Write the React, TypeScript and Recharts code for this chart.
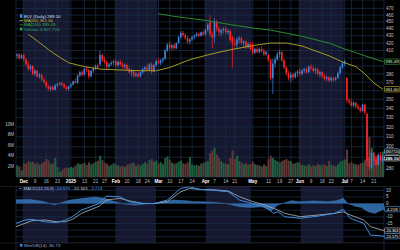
import {
  ComposedChart,
  Bar,
  Line,
  Area,
  Cell,
  XAxis,
  YAxis,
  CartesianGrid,
  ReferenceArea,
  ReferenceLine,
} from "recharts";

const FONT = '"Liberation Sans", Arial, sans-serif';

// daily candles: [open, high, low, close, volume in millions]
const nov = [
  [403, 406, 399, 405, 2.2], [405, 407, 398, 400, 2.0], [400, 406, 399, 404, 1.3],
];
const dec = [
  [404, 406, 396, 398, 2.6], [398, 400, 390, 392, 2.5], [392, 396, 384, 386, 3.0],
  [386, 392, 383, 390, 2.8], [390, 391, 378, 380, 2.9], [380, 386, 377, 384, 2.4],
  [384, 385, 375, 377, 2.7], [377, 381, 374, 379, 2.3], [379, 380, 371, 373, 2.6],
  [373, 376, 368, 370, 2.9], [370, 372, 363, 365, 3.4], [365, 367, 360, 362, 3.1],
  [362, 366, 359, 364, 2.5], [364, 366, 360, 361, 2.6], [361, 368, 360, 366, 3.6],
  [366, 369, 364, 368, 1.9], [368, 370, 366, 369, 1.0], [369, 371, 365, 367, 1.3],
  [367, 369, 362, 364, 1.6], [364, 366, 360, 362, 1.8], [362, 366, 360, 365, 1.7],
];
const jan = [
  [365, 369, 363, 367, 1.9], [367, 372, 366, 371, 1.8], [371, 375, 368, 369, 2.2],
  [369, 380, 368, 378, 2.6], [378, 384, 376, 382, 2.4], [382, 385, 377, 379, 2.5],
  [379, 388, 378, 386, 2.7], [386, 390, 382, 385, 2.3], [385, 386, 374, 377, 2.8],
  [377, 385, 376, 384, 2.4], [384, 389, 381, 387, 2.6], [387, 392, 385, 390, 2.9],
  [390, 393, 386, 388, 3.1], [392, 410, 390, 404, 4.0], [404, 406, 395, 397, 3.2],
  [397, 402, 392, 395, 2.7], [395, 397, 386, 389, 2.5], [389, 394, 387, 392, 2.1],
  [392, 397, 390, 394, 2.3], [394, 398, 391, 396, 2.6],
];
const feb = [
  [396, 399, 388, 391, 2.4], [391, 397, 389, 395, 2.2], [395, 398, 390, 392, 2.0],
  [392, 395, 387, 389, 2.1], [389, 393, 386, 391, 1.9], [391, 393, 384, 386, 2.3],
  [386, 389, 380, 382, 2.4], [382, 386, 377, 384, 2.6], [384, 385, 375, 378, 2.7],
  [378, 382, 376, 380, 2.1], [380, 383, 375, 377, 2.4], [377, 383, 376, 382, 2.2],
  [382, 388, 380, 386, 2.5], [386, 390, 383, 388, 2.8], [388, 392, 384, 385, 2.6],
  [385, 394, 384, 392, 3.2], [392, 395, 380, 383, 3.4], [383, 393, 382, 391, 2.9],
  [391, 398, 389, 396, 3.1],
];
const mar = [
  [396, 400, 392, 394, 2.5], [394, 399, 391, 397, 2.8], [397, 401, 393, 399, 2.4],
  [399, 412, 398, 410, 3.6], [410, 420, 408, 418, 3.9], [418, 423, 411, 414, 3.3],
  [414, 419, 410, 417, 2.7], [417, 419, 411, 413, 2.5], [413, 421, 412, 420, 2.6],
  [420, 430, 419, 428, 2.9], [428, 437, 426, 434, 3.1], [434, 437, 429, 431, 2.6],
  [431, 434, 425, 427, 2.5], [427, 430, 419, 422, 2.8], [422, 427, 418, 425, 3.8],
  [425, 430, 423, 428, 2.4], [428, 432, 425, 430, 2.2], [430, 435, 428, 433, 2.3],
  [433, 436, 428, 430, 2.1], [430, 436, 429, 435, 2.5], [435, 438, 430, 432, 2.7],
];
const apr = [
  [432, 440, 430, 438, 2.8], [438, 448, 436, 446, 3.0], [450, 460, 428, 432, 4.5],
  [432, 436, 413, 428, 5.0], [428, 455, 420, 450, 5.5], [450, 453, 436, 440, 4.2],
  [440, 444, 430, 436, 3.6], [434, 440, 430, 438, 3.0], [438, 442, 433, 440, 2.6],
  [440, 443, 432, 435, 2.5], [435, 440, 432, 437, 2.4], [437, 439, 422, 424, 3.6],
  [428, 430, 388, 420, 5.0], [420, 426, 415, 418, 3.4], [418, 428, 412, 425, 4.0],
  [425, 430, 420, 427, 3.0], [427, 429, 418, 420, 2.7], [420, 424, 414, 422, 2.4],
  [422, 424, 412, 415, 2.6], [415, 421, 413, 419, 2.3], [419, 422, 410, 412, 2.5],
];
const may = [
  [418, 421, 404, 407, 2.9], [407, 414, 405, 412, 2.4], [412, 415, 406, 408, 2.3],
  [408, 414, 406, 412, 2.2], [412, 416, 407, 409, 2.0], [409, 413, 403, 405, 2.4],
  [405, 410, 403, 408, 2.1], [404, 406, 395, 398, 3.4], [398, 399, 372, 375, 4.0],
  [375, 399, 356, 393, 3.6], [393, 402, 388, 398, 3.2], [398, 408, 396, 405, 3.0],
  [405, 411, 401, 408, 2.7], [408, 409, 395, 397, 3.0], [397, 399, 386, 388, 3.2],
  [388, 390, 378, 381, 3.4], [381, 384, 372, 375, 3.1], [375, 382, 370, 379, 3.0],
  [379, 382, 372, 376, 2.5], [376, 383, 374, 381, 2.6], [381, 385, 376, 383, 2.8],
];
const jun = [
  [383, 386, 377, 380, 2.6], [380, 386, 378, 384, 2.3], [384, 388, 381, 386, 2.2],
  [386, 388, 380, 382, 2.1], [382, 391, 381, 389, 2.4], [389, 392, 385, 387, 2.0],
  [387, 390, 382, 384, 2.2], [384, 388, 380, 386, 2.1], [386, 387, 378, 380, 2.5],
  [380, 384, 376, 382, 2.3], [382, 383, 375, 377, 2.2], [377, 380, 372, 374, 2.4],
  [374, 378, 371, 376, 2.1], [376, 377, 370, 372, 3.0], [372, 377, 370, 375, 2.3],
  [375, 376, 370, 373, 2.2], [373, 377, 371, 375, 2.0], [375, 383, 374, 381, 2.4],
  [381, 390, 379, 388, 2.9], [388, 396, 386, 393, 3.1],
];
const jul = [
  [393, 398, 390, 396, 3.3], [375, 376, 346, 349, 5.2], [349, 352, 344, 347, 2.6],
  [347, 350, 341, 343, 2.8], [343, 348, 341, 346, 2.5], [346, 347, 340, 342, 2.4],
  [342, 345, 338, 340, 2.3], [340, 341, 335, 337, 2.6], [337, 345, 336, 344, 2.7],
  [344, 345, 333, 335, 3.3], [334, 335, 282, 287, 9.0], [290, 298, 277, 281, 7.5],
  [280, 296, 278, 294, 5.5], [294, 295, 283, 286, 4.2], [288, 292, 281, 283, 3.8],
  [283, 294, 282, 292, 4.1], [292, 295, 286, 287, 3.9], [287, 292, 285, 289.1, 4.81],
];

// moving averages and MACD: [day index, value]
const ma50Pts = [
  [5, 432], [9, 423], [14, 411], [19, 401], [23, 394], [30, 389], [37, 386], [45, 385],
  [55, 384], [62, 384], [68, 388], [77, 398], [86, 405], [95, 411], [106, 417], [113, 420],
  [120, 420], [127, 416], [139, 403], [145, 395], [151, 389], [155, 380], [159, 369], [163, 361.6],
];
const ma200Pts = [
  [63, 462], [70, 458], [84, 452], [95, 446], [105, 441], [113, 438], [126, 430],
  [139, 420], [146, 412], [155, 403], [163, 395.49],
];
const macdPts = [
  [0, -14.9], [4, -12.4], [7, -11.9], [13, -13.7], [18, -14.4], [22, -12.4], [25, -9.9],
  [29, -4.9], [37, 0.1], [40, 5.6], [46, 5.1], [50, 1.4], [56, 0.1], [61, 0], [67, 2.6],
  [73, 11.4], [77, 12.6], [82, 10.5], [87, 10], [94, 8.9], [99, 2.6], [105, 0], [111, -3.0],
  [114, -7.4], [116, -6.2], [119, -9.9], [126, -11.1], [134, -9.4], [141, -7.4], [145, -4.4],
  [148, -11.1], [154, -14.9], [157, -23.7], [163, -24.575],
];
const signalPts = [
  [0, -17.4], [4, -14.9], [7, -12.9], [13, -12.4], [18, -13.7], [22, -13.7], [25, -11.9],
  [29, -7.4], [37, -1.9], [40, 2.6], [46, 3.9], [50, 2.1], [56, 0.1], [61, 0], [67, 1.4],
  [73, 8.9], [77, 11.4], [82, 10.5], [87, 10.5], [94, 9.4], [99, 5.1], [105, 1.4], [111, -1.5],
  [114, -3.6], [116, -4.9], [119, -7.4], [126, -9.9], [134, -8.6], [141, -7.4], [145, -6.2],
  [148, -8.6], [154, -12.4], [157, -17.4], [163, -20.363],
];
const histPts = [
  [0, 2.8], [6, 3.0], [12, 1.5], [15, 0], [17, -1.0], [20, 0.5], [24, 2.6], [30, 3.9],
  [35, 5.0], [39, 3.9], [44, 1.4], [48, -0.4], [53, -1.1], [57, -0.4], [61, 0], [66, 1.4],
  [70, 2.6], [75, 2.1], [79, 1.4], [82, 1.4], [87, 0.9], [93, 0], [96, -1.1], [99, -2.4],
  [104, -2.9], [109, -2.4], [113, -5.5], [116, -1.1], [118, 0], [122, 2.1], [126, 1.4],
  [132, 1.9], [138, 1.4], [142, 2.1], [145, 3.9], [147, 0], [150, -1.9], [153, -2.9],
  [156, -6.1], [159, -7.4], [162, -4.9], [163, -4.218],
];

const tickIdx = [3, 8, 13, 18, 24, 30, 35, 39, 44, 49, 54, 58, 63, 68, 73, 78, 84, 88, 93, 97, 105, 112, 117, 122, 126, 131, 136, 140, 146, 149, 154, 159];
const tickLabels = ["Dec", "9", "16", "23", "2025", "13", "21", "27", "Feb", "10", "18", "24", "Mar", "10", "17", "24", "Apr", "7", "14", "21", "May", "12", "19", "27", "Jun", "9", "16", "23", "Jul", "7", "14", "21"];
const priceTicks = [280, 290, 300, 310, 320, 330, 340, 350, 360, 370, 380, 390, 400, 410, 420, 430, 440, 450, 460, 470];
const volTicks = [2, 4, 6, 8, 10];
const macdTicks = [10, 5, 0, -5, -10, -15, -20, -25];
// tick labels sitting under a value tag
const hiddenLabels = [290, 360, 390, 400, -5, -20, -25];
// shaded months (first and last day index)
const bands = [[3, 23], [44, 62], [84, 104], [126, 145]];

const rows: any[] = [...nov, ...dec, ...jan, ...feb, ...mar, ...apr, ...may, ...jun, ...jul].map(
  ([o, h, l, c, v], i) => ({ i, o, h, l, c, v })
);
const put = (pts: number[][], key: string) => pts.forEach(([i, val]) => { rows[i][key] = val; });
put(ma50Pts, "ma50");
put(ma200Pts, "ma200");
put(macdPts, "macd");
put(signalPts, "signal");
put(histPts, "hist");

const PRICE_DOMAIN = [272, 483];
const BAND = "#15182f";
const GRID = "#1c2f4e";

const Candle = (props: any) => {
  const { x, y, width, height, payload } = props;
  if (!payload) return null;
  const top = Math.min(y, y + height);
  const bot = Math.max(y, y + height);
  const lh = Math.log(payload.h);
  const span = lh - Math.log(payload.l) || 1;
  const py = (p: number) => top + ((lh - Math.log(p)) / span) * (bot - top);
  const up = payload.c >= payload.o;
  const col = up ? "#3f84dc" : "#ff2323";
  const cx = x + width / 2;
  const bw = Math.max(1.2, width * 0.8);
  const y1 = py(Math.max(payload.o, payload.c));
  const y2 = py(Math.min(payload.o, payload.c));
  return (
    <g>
      <line x1={cx} x2={cx} y1={top} y2={bot} stroke={col} strokeWidth={0.7} />
      <rect x={cx - bw / 2} y={y1} width={bw} height={Math.max(0.7, y2 - y1)} fill={col} />
    </g>
  );
};

const DateTick = ({ x, y, payload }: any) => {
  const lab = tickLabels[tickIdx.indexOf(payload.value)];
  const major = isNaN(Number(lab)) || lab === "2025";
  return (
    <text x={x} y={y + 5.6} textAnchor="middle" fontSize={4.6} fontWeight={major ? 700 : 400}
      fill={major ? "#ffffff" : "#bcbcbc"} fontFamily={FONT}>
      {lab}
    </text>
  );
};

const RightTick = ({ x, y, payload }: any) =>
  hiddenLabels.includes(payload.value) ? <g /> : (
    <text x={x + 2} y={y + 1.6} fontSize={4.5} fill="#c4c4c4" fontFamily={FONT}>{payload.value}</text>
  );

const VolTick = ({ x, y, payload }: any) => (
  <text x={x - 2} y={y + 1.6} textAnchor="end" fontSize={4.5} fill="#c4c4c4" fontFamily={FONT}>
    {payload.value}M
  </text>
);

const Tag = ({ viewBox, text, stroke, color, bold, size = 4.4 }: any) => {
  if (!viewBox) return null;
  const x = viewBox.x + viewBox.width + 0.5;
  const y = viewBox.y;
  return (
    <g>
      <rect x={x} y={y - 2.7} width={15.3} height={5.4} rx={1} fill="#060606" stroke={stroke} strokeWidth={0.6} />
      <text x={x + 0.7} y={y + 1.5} fontSize={size} fontWeight={bold ? 700 : 400} fill={color} fontFamily={FONT}>
        {text}
      </text>
    </g>
  );
};

const Bands = (yAxisId: string) =>
  bands.map(([a, b]) => (
    <ReferenceArea key={a} xAxisId="x" yAxisId={yAxisId} x1={a} x2={b} fill={BAND} fillOpacity={1} stroke="none" zIndex={-200} />
  ));

export default function App() {
  return (
    <div style={{ position: "fixed", left: 0, top: 0, width: 400, height: 250, background: "#000", overflow: "hidden" }}>
      {/* price panel background: bands, grid, volume, axes */}
      <div style={{ position: "absolute", left: 0, top: 0 }}>
        <ComposedChart width={400} height={186} data={rows} barCategoryGap="8%" margin={{ top: 0, right: 0, bottom: 0, left: 0 }}>
          <XAxis xAxisId="x" dataKey="i" ticks={tickIdx} interval={0} tick={<DateTick />} tickLine={false}
            axisLine={false} tickSize={0} tickMargin={0} height={9} />
          <YAxis yAxisId="p" orientation="right" type="number" scale="log" domain={PRICE_DOMAIN} allowDataOverflow
            ticks={priceTicks} interval={0} width={16} tick={<RightTick />} tickLine={false} axisLine={false}
            tickSize={0} tickMargin={0} />
          <YAxis yAxisId="vol" orientation="left" type="number" domain={[0, 33.4]} allowDataOverflow
            ticks={volTicks} interval={0} width={16} tick={<VolTick />} tickLine={false} axisLine={false}
            tickSize={0} tickMargin={0} />
          {Bands("p")}
          <CartesianGrid xAxisId="x" yAxisId="p" stroke={GRID} strokeWidth={0.7} />
          <Bar xAxisId="x" yAxisId="vol" dataKey="v" isAnimationActive={false}>
            {rows.map((r) => (
              <Cell key={r.i} fill={r.c >= r.o ? "#1f6040" : "#613737"} />
            ))}
          </Bar>
          <ReferenceLine xAxisId="x" yAxisId="vol" y={4.81} stroke="none"
            label={<Tag text="4807720" stroke="#8ab8e8" color="#e8f0ff" size={3.6} />} />
        </ComposedChart>
      </div>

      {/* price panel foreground: candles, moving averages */}
      <div style={{ position: "absolute", left: 0, top: 0 }}>
        <ComposedChart width={400} height={186} data={rows} barCategoryGap={0} margin={{ top: 0, right: 16, bottom: 9, left: 16 }}>
          <XAxis xAxisId="x" dataKey="i" hide />
          <YAxis yAxisId="p" type="number" scale="log" domain={PRICE_DOMAIN} allowDataOverflow hide />
          <Bar xAxisId="x" yAxisId="p" dataKey={(d: any) => [d.l, d.h]} shape={<Candle />} isAnimationActive={false} />
          <Line xAxisId="x" yAxisId="p" dataKey="ma200" stroke="#2a8a2a" strokeWidth={1} dot={false} connectNulls isAnimationActive={false} />
          <Line xAxisId="x" yAxisId="p" dataKey="ma50" stroke="#a69b22" strokeWidth={1} dot={false} connectNulls isAnimationActive={false} />
          <ReferenceLine xAxisId="x" yAxisId="p" y={395.49} stroke="none"
            label={<Tag text="395.49" stroke="#3aa03a" color="#c8f0c8" />} />
          <ReferenceLine xAxisId="x" yAxisId="p" y={361.6} stroke="none"
            label={<Tag text="361.60" stroke="#c8b830" color="#f4eec0" />} />
          <ReferenceLine xAxisId="x" yAxisId="p" y={289.1} stroke="none"
            label={<Tag text="289.10" stroke="#e8e8e8" color="#ffffff" bold />} />
        </ComposedChart>
      </div>

      {/* MACD panel */}
      <div style={{ position: "absolute", left: 0, top: 186 }}>
        <ComposedChart width={400} height={57} data={rows} margin={{ top: 0, right: 0, bottom: 0, left: 16 }}>
          <XAxis xAxisId="x" dataKey="i" ticks={tickIdx} interval={0} tick={false} tickLine={false} axisLine={false} height={0} />
          <YAxis yAxisId="m" orientation="right" type="number" domain={[-29.7, 13.2]} allowDataOverflow
            ticks={macdTicks} interval={0} width={16} tick={<RightTick />} tickLine={false} axisLine={false}
            tickSize={0} tickMargin={0} />
          {Bands("m")}
          <CartesianGrid xAxisId="x" yAxisId="m" stroke={GRID} strokeWidth={0.7} />
          <Area xAxisId="x" yAxisId="m" dataKey="hist" baseValue={0} stroke="#3f7fc4" strokeWidth={0.5}
            fill="#3676b8" fillOpacity={0.85} connectNulls isAnimationActive={false} />
          <Line xAxisId="x" yAxisId="m" dataKey="signal" stroke="#b8b8b8" strokeWidth={0.8} dot={false} connectNulls isAnimationActive={false} />
          <Line xAxisId="x" yAxisId="m" dataKey="macd" stroke="#3d8fe0" strokeWidth={1} dot={false} connectNulls isAnimationActive={false} />
          <ReferenceLine xAxisId="x" yAxisId="m" y={-4.218} stroke="none"
            label={<Tag text="-4.218" stroke="#4c98e0" color="#e0ecff" />} />
          <ReferenceLine xAxisId="x" yAxisId="m" y={-20.363} stroke="none"
            label={<Tag text="-20.363" stroke="#c8c8c8" color="#ffffff" size={3.9} />} />
          <ReferenceLine xAxisId="x" yAxisId="m" y={-24.575} stroke="none"
            label={<Tag text="-24.575" stroke="#4c98e0" color="#e0ecff" size={3.9} />} />
        </ComposedChart>
      </div>

      {/* Williams %R panel (top sliver) */}
      <div style={{ position: "absolute", left: 0, top: 243 }}>
        <ComposedChart width={400} height={7} data={rows} margin={{ top: 0, right: 16, bottom: 0, left: 16 }}>
          <XAxis xAxisId="x" dataKey="i" ticks={tickIdx} interval={0} tick={false} tickLine={false} axisLine={false} height={0} />
          <YAxis yAxisId="w" type="number" domain={[-20, 0]} hide />
          {Bands("w")}
          <CartesianGrid xAxisId="x" yAxisId="w" stroke={GRID} strokeWidth={0.7} horizontal={false} />
        </ComposedChart>
      </div>

      {/* legends */}
      <svg width={400} height={250} style={{ position: "absolute", left: 0, top: 0, pointerEvents: "none" }}>
        <line x1={0} x2={400} y1={186.5} y2={186.5} stroke="#2a2a36" strokeWidth={0.6} />
        <line x1={0} x2={400} y1={243} y2={243} stroke="#2a2a36" strokeWidth={0.6} />
        <g fontFamily={FONT} fontSize={4.4}>
          <rect x={20} y={14.2} width={2.4} height={3.6} fill="#3f84dc" />
          <text x={24} y={17.6} fill="#d6e2ff">ELV (Daily) 289.10</text>
          <line x1={19.5} x2={23} y1={20.5} y2={20.5} stroke="#c8b830" strokeWidth={0.8} />
          <text x={24} y={22} fill="#c8b830">MA(50) 361.60</text>
          <line x1={19.5} x2={23} y1={24.9} y2={24.9} stroke="#3aa03a" strokeWidth={0.8} />
          <text x={24} y={26.4} fill="#3fae3f">MA(200) 395.49</text>
          <rect x={20} y={27.6} width={2.4} height={3} fill="#2f9c62" />
          <text x={24} y={30.8} fill="#2fa86a">Volume 4,807,720</text>

          <line x1={19} x2={22} y1={188.4} y2={188.4} stroke="#3d8fe0" strokeWidth={0.8} />
          <text x={23.5} y={189.9}>
            <tspan fill="#a9c4e8">MACD(12,26,9) </tspan>
            <tspan fill="#4c9be8">-24.575, </tspan>
            <tspan fill="#cfcfcf">-20.363, </tspan>
            <tspan fill="#4c9be8">-4.218</tspan>
          </text>

          <rect x={20} y={244} width={2.4} height={2.6} fill="#3d8fe0" />
          <text x={24} y={246.8} fill="#8fb6e8">Wm%R(14) -90.73</text>
        </g>
      </svg>
    </div>
  );
}
